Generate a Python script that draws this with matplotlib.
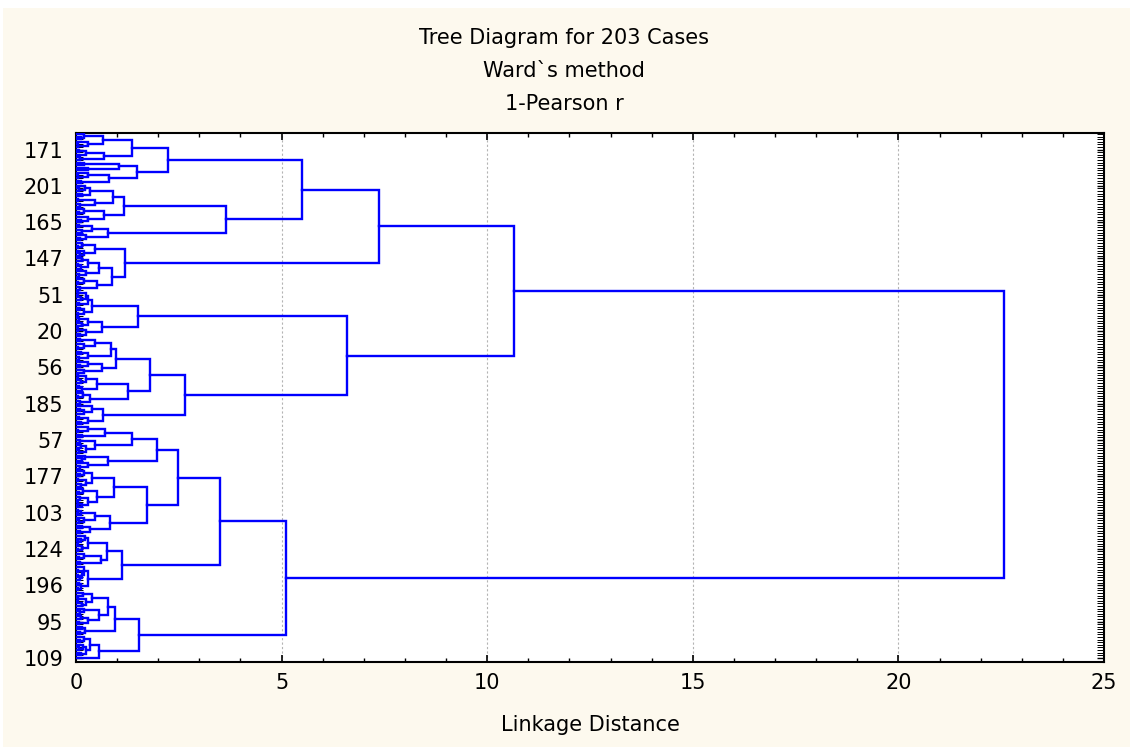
import matplotlib
matplotlib.use('Agg')
import matplotlib.pyplot as plt
from matplotlib.patches import Rectangle
import numpy as np

# Linkage distance at which each leaf joins the next one (leaves ordered bottom -> top).
# The tree is the one implied by these adjacent merge heights (max gap = root split).
gaps_b2 = [0.57, 0.12, 0.25, 0.08, 0.18, 0.35, 0.10, 0.20, 1.54,
           0.10, 0.22, 0.15, 0.96,
           0.08, 0.30, 0.12, 0.55, 0.10, 0.20, 0.78, 0.14, 0.25, 0.06, 0.40, 0.18]
join_b2_b1 = 5.11
gaps_b1 = [0.05, 0.12, 0.08, 0.28, 0.10, 0.06, 0.15, 0.04, 0.20, 1.12,
           0.10, 0.60, 0.08, 0.20, 0.75, 0.06, 0.15, 0.30, 0.05, 0.12, 0.22, 3.51,
           0.10, 0.35, 0.15, 0.83, 0.08, 0.20, 0.45, 0.12, 0.05, 1.73,
           0.15, 0.06, 0.30, 0.10, 0.50, 0.08, 0.18, 0.92, 0.12, 0.25, 0.06, 0.40, 0.10, 0.20, 2.49,
           0.10, 0.30, 0.79, 0.15, 0.22, 1.97,
           0.08, 0.25, 0.12, 0.45, 0.10, 1.36, 0.15, 0.71, 0.06, 0.30]
join_b_a = 22.57
gaps_a2 = [0.12, 0.30, 0.08, 0.65, 0.20, 0.10, 0.40, 2.64,
           0.10, 0.35, 0.06, 0.18, 1.26, 0.15, 0.08, 0.50, 0.12, 0.25, 0.05, 1.80,
           0.20, 0.63, 0.10, 0.30, 0.97, 0.08, 0.30, 0.12, 0.85, 0.06, 0.20, 0.45, 0.10, 6.59,
           0.10, 0.25, 0.05, 0.63, 0.15, 0.30, 0.08, 1.50,
           0.06, 0.20, 0.10, 0.38, 0.08, 0.30, 0.12, 0.25, 0.05]
join_a2_a1 = 10.66
gaps_a1b = [0.10, 0.51, 0.06, 0.20, 0.87, 0.08, 0.25, 0.55, 0.12, 0.05, 0.30, 0.15, 1.20,
            0.10, 0.20, 0.45, 0.06, 0.15]
join_a1b_a1a = 7.36
gaps_a1a_low = [0.10, 0.25, 0.79, 0.15, 0.40, 0.08, 3.66,
                0.12, 0.30, 0.69, 0.08, 0.20, 1.16, 0.10, 0.46, 0.06, 0.89, 0.15, 0.35, 0.08, 0.22]
join_a1a = 5.50
gaps_a1a_top = [0.12, 0.81, 0.06, 0.30, 1.48, 0.30, 1.05, 0.20, 2.23,
                0.10, 0.69, 0.25, 0.08, 1.35, 0.06, 0.30, 0.66, 0.12, 0.20]

label_pos = [0, 14, 28, 42, 56, 70, 84, 98, 112, 126, 140, 154, 168, 182, 196]
label_txt = ['109', '95', '196', '124', '103', '177', '57', '185', '56', '20',
             '51', '147', '165', '201', '171']
x_ticks = [0, 5, 10, 15, 20, 25]

gaps = (gaps_b2 + [join_b2_b1] + gaps_b1 + [join_b_a] + gaps_a2 + [join_a2_a1]
        + gaps_a1b + [join_a1b_a1a] + gaps_a1a_low + [join_a1a] + gaps_a1a_top)
gaps = np.array(gaps)
n_leaves = len(gaps) + 1

xs, ys = [], []

def build(lo, hi):
    if lo == hi:
        return float(lo), 0.0
    m = lo + int(np.argmax(gaps[lo:hi]))
    h = gaps[m]
    cl, hl = build(lo, m)
    cr, hr = build(m + 1, hi)
    xs.extend([hl, h, h, hr, np.nan])
    ys.extend([cl, cl, cr, cr, np.nan])
    return (cl + cr) / 2.0, h

root_c, root_h = build(0, n_leaves - 1)

cream = '#FDF9EE'
fig = plt.figure(figsize=(11.30, 7.47), dpi=100, facecolor='white')
fig.patches.append(Rectangle((3 / 1130, 0), 1, 1 - 8 / 747, transform=fig.transFigure,
                             facecolor=cream, edgecolor='none', zorder=-10))
ax = fig.add_axes([76 / 1130, (747 - 661.7) / 747, 1028 / 1130, 529 / 747])
ax.set_facecolor('white')

ax.plot(xs, ys, color='#0000FF', lw=1.7, solid_joinstyle='miter', zorder=3)

ax.set_xlim(0, 25)
ax.set_ylim(-1.5, 202.5)

ax.set_xticks(x_ticks)
ax.set_xticks(np.arange(0, 26, 1), minor=True)
ax.set_yticks(label_pos)
ax.set_yticklabels(label_txt)
ax.set_yticks(np.arange(n_leaves), minor=True)

for xv in x_ticks[1:-1]:
    ax.axvline(xv, color='#b4b4b4', lw=0.8, linestyle=(0, (2, 2)), zorder=1)

fs = 15
ax.tick_params(axis='both', which='both', direction='in', top=True, right=True,
               labelsize=fs, colors='black')
ax.tick_params(axis='x', which='major', length=5, width=1.2, pad=8)
ax.tick_params(axis='x', which='minor', length=3, width=1.0)
ax.tick_params(axis='y', which='major', length=5, width=1.0, pad=9)
ax.tick_params(axis='y', which='minor', length=5, width=0.7)
for sp in ax.spines.values():
    sp.set_linewidth(1.5)
    sp.set_color('black')

ax.set_xlabel('Linkage Distance', fontsize=fs, labelpad=16)

fig.text(564 / 1130, 1 - 38 / 747, 'Tree Diagram for 203 Cases', ha='center', va='center', fontsize=fs)
fig.text(564 / 1130, 1 - 71 / 747, 'Ward`s method', ha='center', va='center', fontsize=fs)
fig.text(564 / 1130, 1 - 104 / 747, '1-Pearson r', ha='center', va='center', fontsize=fs)

fig.savefig('out.png', dpi=100, facecolor=fig.get_facecolor())
